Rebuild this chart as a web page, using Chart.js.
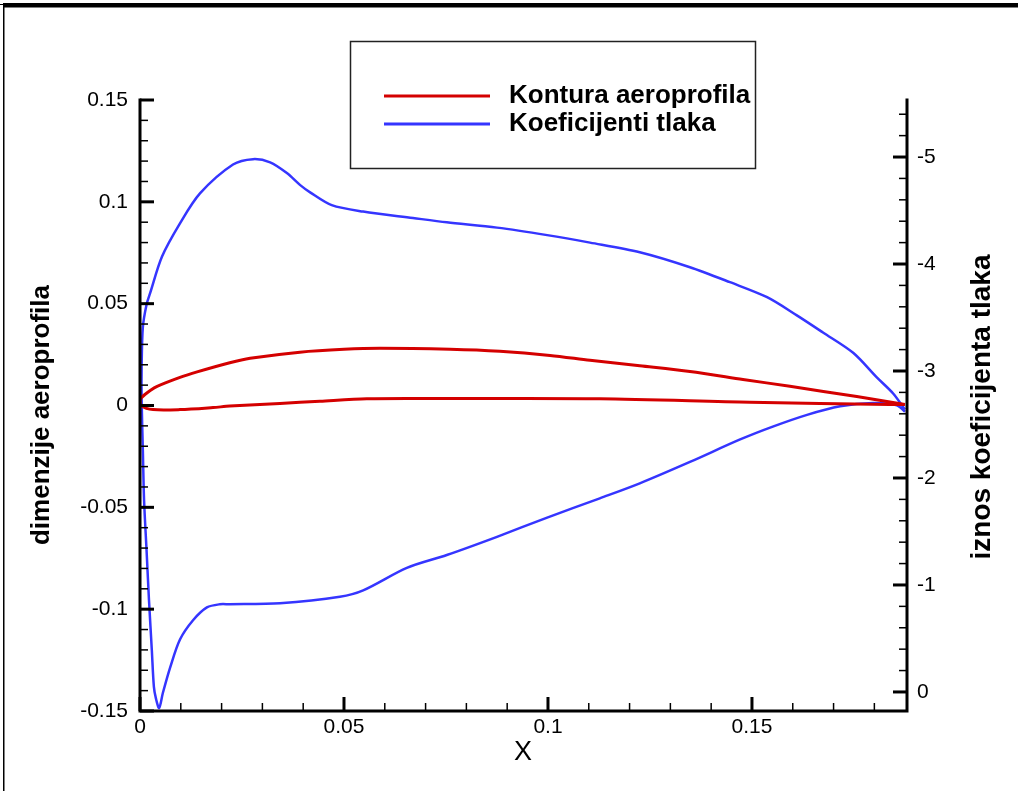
<!DOCTYPE html>
<html>
<head>
<meta charset="utf-8">
<script src="https://cdn.jsdelivr.net/npm/chart.js@4.4.0/dist/chart.umd.min.js"></script>
<style>
  html, body { margin: 0; padding: 0; background: #fff; }
</style>
</head>
<body>
<canvas id="c" width="1018" height="791"></canvas>
<script>
// Kontura aeroprofila: gornja strana od izlaznog brida do napadnog, pa donja natrag
const konturaX = [0.1875, 0.1757, 0.1593, 0.1478, 0.1348, 0.1225, 0.1103, 0.1005, 0.0882, 0.076, 0.0588, 0.05, 0.0392, 0.027, 0.022, 0.014, 0.0098, 0.0042, 0.0025, 0.0012, 0.0004, 0,
                  0.0004, 0.0032, 0.0098, 0.0179, 0.022, 0.0343, 0.0441, 0.0556, 0.075, 0.1127, 0.1495, 0.1838, 0.1875];
const konturaY = [0.0005, 0.0044, 0.0094, 0.0128, 0.0167, 0.0195, 0.0222, 0.0246, 0.0266, 0.0276, 0.0281, 0.0276, 0.0262, 0.0232, 0.0210, 0.0165, 0.0138, 0.0094, 0.0074, 0.0054, 0.0039, 0.0025,
                  -0.0003, -0.002, -0.002, -0.001, -0.0003, 0.001, 0.0021, 0.0033, 0.0034, 0.0033, 0.0016, 0.0005, 0.0005];

// Koeficijenti tlaka (desna os), isti obilazak konture
const tlakX = [0.1875, 0.1846, 0.1806, 0.1748, 0.1674, 0.161, 0.1537, 0.1446, 0.1348, 0.1225, 0.1103, 0.0998, 0.0875, 0.0752, 0.0669, 0.0547,
               0.047, 0.0417, 0.0392, 0.036, 0.0319, 0.0277, 0.0228, 0.0147, 0.0098, 0.0054, 0.0025, 0.0016, 0.0007, 0.0004, 0.0004, 0.0007,
               0.001, 0.0016, 0.0022, 0.0029, 0.0034, 0.0039, 0.0047, 0.0056, 0.0074, 0.0098, 0.013, 0.0164, 0.0196, 0.022, 0.0343, 0.049,
               0.0547, 0.0654, 0.0752, 0.0875, 0.0998, 0.1127, 0.1225, 0.1348, 0.1471, 0.1551, 0.1635, 0.1716, 0.1797, 0.1855, 0.1875];
const tlakCp = [-2.64, -2.79, -2.94, -3.17, -3.36, -3.52, -3.69, -3.83, -3.97, -4.11, -4.20, -4.27, -4.34, -4.39, -4.43, -4.49,
                -4.55, -4.67, -4.74, -4.85, -4.95, -4.98, -4.93, -4.66, -4.38, -4.07, -3.73, -3.62, -3.41, -3.04, -2.73, -2.26,
                -1.79, -1.33, -0.86, -0.39, -0.05, 0.06, 0.15, 0.01, -0.23, -0.49, -0.67, -0.79, -0.82, -0.82, -0.83, -0.89,
                -0.95, -1.16, -1.28, -1.45, -1.63, -1.81, -1.95, -2.15, -2.36, -2.48, -2.59, -2.67, -2.70, -2.68, -2.62];

// Oznake na osima
const xTicks = [0, 0.05, 0.1, 0.15];
const xTickLabels = ["0", "0.05", "0.1", "0.15"];
const yTicks = [-0.15, -0.1, -0.05, 0, 0.05, 0.1, 0.15];
const yTickLabels = ["-0.15", "-0.1", "-0.05", "0", "0.05", "0.1", "0.15"];
const cpTicks = [-5, -4, -3, -2, -1, 0];
const cpTickLabels = ["-5", "-4", "-3", "-2", "-1", "0"];

const seriesNames = ["Kontura aeroprofila", "Koeficijenti tlaka"];

const FONT = "'Liberation Sans', Arial, Helvetica, sans-serif";
Chart.defaults.font.family = FONT;
Chart.defaults.color = "#000";

const toPoints = (xs, ys) => xs.map((x, i) => ({ x: x, y: ys[i] }));

// crtice okrenute prema unutra (kao u Tecplotu)
function drawTicks(ctx, area, scale, side, majors, minorStep) {
    const mark = (v, len, w) => {
        const p = scale.getPixelForValue(v);
        ctx.lineWidth = w;
        ctx.beginPath();
        if (side === "left") { ctx.moveTo(area.left, p); ctx.lineTo(area.left + len, p); }
        if (side === "right") { ctx.moveTo(area.right, p); ctx.lineTo(area.right - len, p); }
        if (side === "bottom") { ctx.moveTo(p, area.bottom); ctx.lineTo(p, area.bottom - len); }
        ctx.stroke();
    };
    const lo = Math.ceil(scale.min / minorStep - 1e-6);
    const hi = Math.floor(scale.max / minorStep + 1e-6);
    for (let i = lo; i <= hi; i++) {
        const v = i * minorStep;
        if (majors.some(m => Math.abs(m - v) < minorStep / 10)) continue;
        mark(v, 8, 1.5);
    }
    majors.forEach(v => mark(v, 14, 3));
}

const okvirPlugin = {
    id: "okvir",
    beforeDraw(chart) {
        const ctx = chart.ctx;
        ctx.save();
        ctx.fillStyle = "#fff";
        ctx.fillRect(0, 0, chart.width, chart.height);
        ctx.restore();
    },
    afterDatasetsDraw(chart) {
        const { ctx, chartArea: a, scales } = chart;
        ctx.save();
        ctx.strokeStyle = "#000";
        ctx.fillStyle = "#000";

        // vanjski okvir
        ctx.fillRect(3, 3, chart.width - 3, 4.5);
        ctx.fillRect(3, 3, 1.5, chart.height - 3);
        ctx.fillRect(0, 4, 3, 1);

        // osi
        ctx.lineWidth = 3;
        ctx.lineCap = "square";
        ctx.beginPath();
        ctx.moveTo(a.left, a.top); ctx.lineTo(a.left, a.bottom); ctx.lineTo(a.right, a.bottom);
        ctx.moveTo(a.right, a.top); ctx.lineTo(a.right, a.bottom);
        ctx.stroke();
        ctx.lineCap = "butt";

        drawTicks(ctx, a, scales.y, "left", yTicks, 0.01);
        drawTicks(ctx, a, scales.y2, "right", cpTicks, 0.2);
        drawTicks(ctx, a, scales.x, "bottom", xTicks, 0.01);

        // naslovi osi
        ctx.textAlign = "center";
        ctx.textBaseline = "middle";
        ctx.font = "27px " + FONT;
        ctx.fillText("X", 523, 753);

        ctx.font = "bold 26px " + FONT;
        ctx.save();
        ctx.translate(42, 415);
        ctx.rotate(-Math.PI / 2);
        ctx.fillText("dimenzije aeroprofila", 0, 0);
        ctx.restore();

        ctx.font = "bold 28px " + FONT;
        ctx.save();
        ctx.translate(982, 407);
        ctx.rotate(-Math.PI / 2);
        ctx.fillText("iznos koeficijenta tlaka", 0, 0);
        ctx.restore();

        // legenda
        ctx.lineWidth = 1.5;
        ctx.strokeStyle = "#222";
        ctx.strokeRect(350.5, 41.5, 405, 127);
        ctx.font = "bold 26px " + FONT;
        ctx.textAlign = "left";
        chart.data.datasets.forEach((ds, i) => {
            const y = 96 + i * 28;
            ctx.strokeStyle = ds.borderColor;
            ctx.lineWidth = 3;
            ctx.beginPath();
            ctx.moveTo(384, y);
            ctx.lineTo(490, y);
            ctx.stroke();
            ctx.fillStyle = "#000";
            ctx.fillText(ds.label, 509, y);
        });
        ctx.restore();
    }
};

const tickFont = { family: FONT, size: 21 };

new Chart(document.getElementById("c"), {
    type: "scatter",
    data: {
        datasets: [
            {
                label: seriesNames[0],
                data: toPoints(konturaX, konturaY),
                yAxisID: "y",
                showLine: true,
                borderColor: "#d40000",
                borderWidth: 3,
                pointRadius: 0,
                tension: 0.3,
            },
            {
                label: seriesNames[1],
                data: toPoints(tlakX, tlakCp),
                yAxisID: "y2",
                showLine: true,
                borderColor: "#3535ff",
                borderWidth: 2.5,
                pointRadius: 0,
                tension: 0.3,
            },
        ],
    },
    options: {
        responsive: false,
        animation: false,
        layout: { padding: { top: 100, left: 0, right: 0, bottom: 0 } },
        plugins: { legend: { display: false }, tooltip: { enabled: false } },
        scales: {
            x: {
                type: "linear",
                position: "bottom",
                min: 0,
                max: 0.188,
                afterBuildTicks: s => { s.ticks = xTicks.map(v => ({ value: v })); },
                afterFit: s => { s.height = 80; },
                grid: { display: false, drawTicks: false },
                border: { display: false },
                ticks: { padding: 4, maxRotation: 0, autoSkip: false, font: tickFont, color: "#000",
                         callback: (v, i) => xTickLabels[i] },
            },
            y: {
                type: "linear",
                position: "left",
                min: -0.15,
                max: 0.15,
                afterBuildTicks: s => { s.ticks = yTicks.map(v => ({ value: v })); },
                afterFit: s => { s.width = 140; },
                grid: { display: false, drawTicks: false },
                border: { display: false },
                ticks: { padding: 12, autoSkip: false, font: tickFont, color: "#000",
                         callback: (v, i) => yTickLabels[i] },
            },
            y2: {
                type: "linear",
                position: "right",
                reverse: true,
                min: -5.533,
                max: 0.178,
                afterBuildTicks: s => { s.ticks = cpTicks.map(v => ({ value: v })); },
                afterFit: s => { s.width = 111; },
                grid: { display: false, drawTicks: false },
                border: { display: false },
                ticks: { padding: 10, autoSkip: false, font: tickFont, color: "#000",
                         callback: (v, i) => cpTickLabels[i] },
            },
        },
    },
    plugins: [okvirPlugin],
});
</script>
</body>
</html>
